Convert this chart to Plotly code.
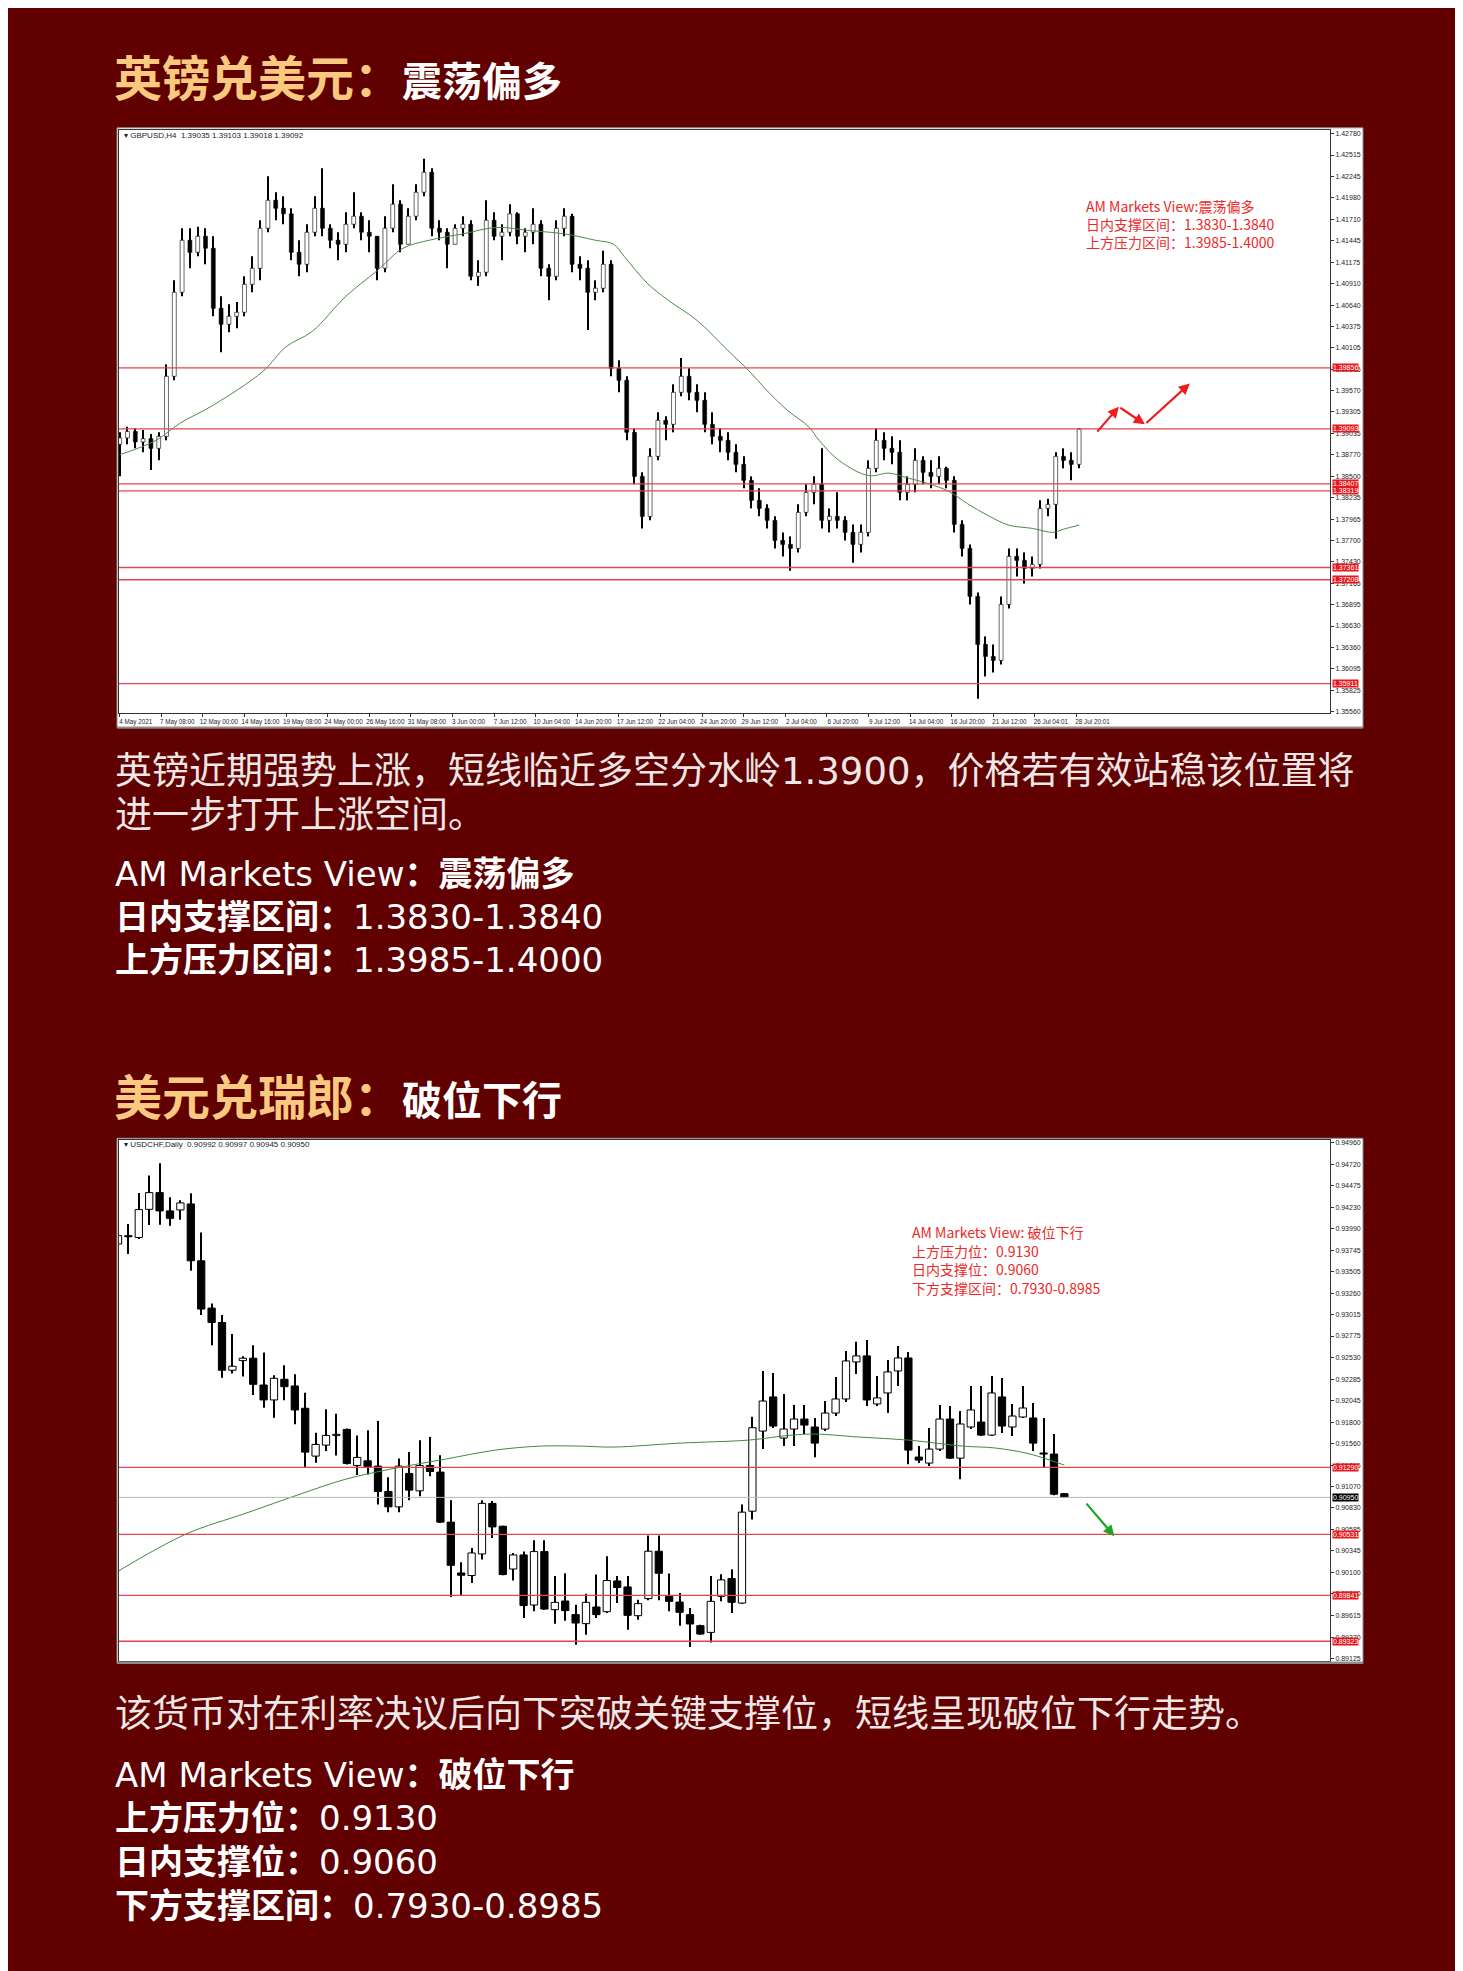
import plotly.graph_objects as go

W, H = 1463, 1971
BG = "#600000"
GOLD = "#f9c97f"
TXT_RED = "#ec2a2a"
LVL_RED = "#e2474b"

# ---------------- GBPUSD H4 (one entry = 3 H4 bars) ----------------
gb_bar = list(range(0, 370, 3))
gb_first_open = 1.3890
gb_close = [1.3898, 1.3906, 1.3893, 1.3897, 1.3885, 1.3900, 1.3975, 1.4080, 1.4145, 1.4130,
            1.4150, 1.4135, 1.4060, 1.4040, 1.4050, 1.4055, 1.4090, 1.4110, 1.4160, 1.4195,
            1.4185, 1.4178, 1.4130, 1.4115, 1.4155, 1.4185, 1.4160, 1.4145, 1.4140, 1.4165,
            1.4175, 1.4155, 1.4150, 1.4110, 1.4160, 1.4190, 1.4140, 1.4175, 1.4205, 1.4230,
            1.4160, 1.4155, 1.4140, 1.4160, 1.4165, 1.4100, 1.4105, 1.4170, 1.4150, 1.4155,
            1.4178, 1.4150, 1.4155, 1.4165, 1.4110, 1.4100, 1.4160, 1.4175, 1.4115, 1.4110,
            1.4080, 1.4085, 1.4115, 1.3985, 1.3970, 1.3905, 1.3850, 1.3800, 1.3875, 1.3920,
            1.3915, 1.3955, 1.3975, 1.3955, 1.3945, 1.3915, 1.3900, 1.3895, 1.3880, 1.3865,
            1.3845, 1.3820, 1.3810, 1.3795, 1.3770, 1.3765, 1.3760, 1.3805, 1.3830, 1.3840,
            1.3795, 1.3800, 1.3795, 1.3780, 1.3765, 1.3780, 1.3860, 1.3895, 1.3885, 1.3880,
            1.3830, 1.3840, 1.3870, 1.3855, 1.3850, 1.3860, 1.3845, 1.3790, 1.3760, 1.3700,
            1.3640, 1.3625, 1.3620, 1.3690, 1.3750, 1.3745, 1.3735, 1.3740, 1.3810, 1.3815,
            1.3875, 1.3870, 1.3865, 1.3909]
gb_high = [1.3905, 1.3912, 1.3910, 1.3908, 1.3903, 1.3905, 1.3990, 1.4095, 1.4160, 1.4160,
           1.4162, 1.4160, 1.4150, 1.4075, 1.4065, 1.4068, 1.4100, 1.4125, 1.4170, 1.4225,
           1.4205, 1.4200, 1.4185, 1.4145, 1.4165, 1.4200, 1.4235, 1.4165, 1.4155, 1.4180,
           1.4205, 1.4180, 1.4170, 1.4150, 1.4175, 1.4215, 1.4195, 1.4185, 1.4215, 1.4247,
           1.4235, 1.4170, 1.4160, 1.4165, 1.4175, 1.4170, 1.4120, 1.4195, 1.4180, 1.4165,
           1.4190, 1.4180, 1.4160, 1.4185, 1.4170, 1.4115, 1.4170, 1.4185, 1.4178, 1.4125,
           1.4120, 1.4095, 1.4132, 1.4120, 1.3995, 1.3975, 1.3910, 1.3855, 1.3885, 1.3930,
           1.3925, 1.3965, 1.3998, 1.3985, 1.3965, 1.3955, 1.3930, 1.3910, 1.3905, 1.3890,
           1.3875, 1.3850, 1.3835, 1.3815, 1.3800, 1.3780, 1.3775, 1.3815, 1.3840, 1.3850,
           1.3885, 1.3810, 1.3830, 1.3800, 1.3790, 1.3790, 1.3870, 1.3910, 1.3905, 1.3900,
           1.3895, 1.3850, 1.3885, 1.3875, 1.3870, 1.3875, 1.3862, 1.3850, 1.3795, 1.3765,
           1.3705, 1.3650, 1.3640, 1.3700, 1.3760, 1.3760, 1.3755, 1.3750, 1.3820, 1.3822,
           1.3880, 1.3885, 1.3880, 1.3910]
gb_low = [1.3850, 1.3890, 1.3885, 1.3880, 1.3858, 1.3870, 1.3895, 1.3970, 1.4075, 1.4110,
          1.4125, 1.4115, 1.4050, 1.4005, 1.4030, 1.4035, 1.4050, 1.4080, 1.4095, 1.4155,
          1.4170, 1.4165, 1.4120, 1.4100, 1.4105, 1.4150, 1.4150, 1.4135, 1.4120, 1.4130,
          1.4160, 1.4145, 1.4130, 1.4095, 1.4105, 1.4155, 1.4130, 1.4140, 1.4170, 1.4200,
          1.4150, 1.4145, 1.4110, 1.4140, 1.4150, 1.4095, 1.4088, 1.4100, 1.4145, 1.4120,
          1.4150, 1.4140, 1.4130, 1.4140, 1.4100, 1.4070, 1.4095, 1.4150, 1.4105, 1.4095,
          1.4033, 1.4070, 1.4080, 1.3975, 1.3955, 1.3895, 1.3840, 1.3785, 1.3795, 1.3870,
          1.3895, 1.3905, 1.3950, 1.3945, 1.3930, 1.3905, 1.3890, 1.3880, 1.3870, 1.3855,
          1.3835, 1.3810, 1.3800, 1.3785, 1.3760, 1.3750, 1.3732, 1.3755, 1.3800, 1.3815,
          1.3785, 1.3780, 1.3785, 1.3770, 1.3742, 1.3755, 1.3775, 1.3855, 1.3870, 1.3865,
          1.3820, 1.3820, 1.3830, 1.3840, 1.3835, 1.3840, 1.3835, 1.3780, 1.3750, 1.3690,
          1.3572, 1.3600, 1.3605, 1.3615, 1.3685, 1.3725, 1.3716, 1.3725, 1.3735, 1.3800,
          1.3772, 1.3860, 1.3845, 1.3860]
gb_ma_bar = [0, 14, 23, 36, 55, 64, 74, 87, 99, 109, 119, 132, 145, 158, 171, 183, 190, 194,
             203, 211, 222, 234, 242, 249, 257, 265, 269, 277, 288, 296, 303, 311, 319, 326,
             334, 342, 351, 359, 363, 369]
gb_ma = [1.3877, 1.3895, 1.3916, 1.3939, 1.3981, 1.4012, 1.4031, 1.4075, 1.4107, 1.4135,
         1.4145, 1.4153, 1.4161, 1.4157, 1.4153, 1.4145, 1.4140, 1.4125, 1.4091, 1.4070,
         1.4045, 1.4007, 1.3982, 1.3957, 1.3932, 1.3912, 1.3895, 1.3869, 1.3851, 1.3854,
         1.3848, 1.3841, 1.3831, 1.3816, 1.3801, 1.3789, 1.3785, 1.3780, 1.3784, 1.3789]
gb_levels = [1.39856, 1.39093, 1.38407, 1.38319, 1.37361, 1.37208, 1.35911]
gb_yticks = [1.42780, 1.42515, 1.42245, 1.41980, 1.41710, 1.41445, 1.41175, 1.40910, 1.40640,
             1.40375, 1.40105, 1.39835, 1.39570, 1.39305, 1.39035, 1.38770, 1.38500, 1.38235,
             1.37965, 1.37700, 1.37430, 1.37165, 1.36895, 1.36630, 1.36360, 1.36095, 1.35825,
             1.35560]
gb_xtick_bar = [0, 16, 32, 48, 64, 80, 96, 112, 128, 144, 160, 176, 192, 208, 224, 240, 256,
                272, 288, 304, 320, 336, 352, 368]
gb_xtick_text = ["4 May 2021", "7 May 08:00", "12 May 00:00", "14 May 16:00", "19 May 08:00",
                 "24 May 00:00", "26 May 16:00", "31 May 08:00", "3 Jun 00:00", "7 Jun 12:00",
                 "10 Jun 04:00", "14 Jun 20:00", "17 Jun 12:00", "22 Jun 04:00", "24 Jun 20:00",
                 "29 Jun 12:00", "2 Jul 04:00", "6 Jul 20:00", "9 Jul 12:00", "14 Jul 04:00",
                 "16 Jul 20:00", "21 Jul 12:00", "26 Jul 04:01", "28 Jul 20:01"]
gb_arrow_bar = [375.5, 384.3, 394.3, 411.6]
gb_arrow_price = [1.3904, 1.3937, 1.3915, 1.3966]

# ---------------- USDCHF Daily ----------------
cf_day = list(range(92))
cf_open = [0.93816, 0.93905, 0.93890, 0.94208, 0.94397, 0.94190, 0.94201, 0.94269, 0.93626, 0.93091,
           0.92928, 0.92388, 0.92497, 0.92524, 0.92221, 0.92052, 0.92286, 0.92210, 0.91958, 0.91417,
           0.91541, 0.91651, 0.91719, 0.91311, 0.91364, 0.91304, 0.91017, 0.90843, 0.91221, 0.91024,
           0.91311, 0.91236, 0.90670, 0.90095, 0.90066, 0.90310, 0.90882, 0.90624, 0.90140, 0.90299,
           0.89733, 0.90337, 0.89680, 0.89778, 0.89624, 0.89522, 0.89710, 0.89657, 0.90005, 0.89937,
           0.89612, 0.89805, 0.90341, 0.89831, 0.89766, 0.89624, 0.89499, 0.89423, 0.89831, 0.90032,
           0.89755, 0.90794, 0.91700, 0.92086, 0.91621, 0.91723, 0.91836, 0.91746, 0.91723, 0.91904,
           0.92063, 0.92482, 0.92550, 0.92007, 0.92131, 0.92380, 0.92527, 0.91406, 0.91338, 0.91496,
           0.91836, 0.91394, 0.91746, 0.91802, 0.91655, 0.92086, 0.91746, 0.91859, 0.91848, 0.91446,
           0.91440, 0.90992]
cf_close = [0.93910, 0.93898, 0.94205, 0.94397, 0.94190, 0.94106, 0.94281, 0.93626, 0.93080, 0.92928,
            0.92388, 0.92433, 0.92524, 0.92229, 0.92052, 0.92297, 0.92202, 0.91939, 0.91462, 0.91549,
            0.91651, 0.91658, 0.91334, 0.91402, 0.91296, 0.91017, 0.90843, 0.91304, 0.91032, 0.91311,
            0.91243, 0.90670, 0.90182, 0.90069, 0.90321, 0.90882, 0.90616, 0.90077, 0.90299, 0.89726,
            0.90337, 0.89687, 0.89763, 0.89669, 0.89529, 0.89763, 0.89624, 0.90010, 0.89930, 0.89616,
            0.89748, 0.90341, 0.90092, 0.89774, 0.89650, 0.89518, 0.89404, 0.89774, 0.90017, 0.89763,
            0.90783, 0.91738, 0.92040, 0.91757, 0.91723, 0.91836, 0.91768, 0.91564, 0.91904, 0.92063,
            0.92493, 0.92550, 0.92052, 0.92075, 0.92369, 0.92527, 0.91485, 0.91372, 0.91496, 0.91836,
            0.91394, 0.91780, 0.91939, 0.91655, 0.92131, 0.91757, 0.91870, 0.91961, 0.91564, 0.91440,
            0.90986, 0.90950]
cf_high = [0.93910, 0.94042, 0.94394, 0.94590, 0.94729, 0.94344, 0.94310, 0.94390, 0.93947, 0.93143,
           0.93012, 0.92799, 0.92547, 0.92671, 0.92588, 0.92331, 0.92445, 0.92343, 0.92134, 0.91681,
           0.91946, 0.91896, 0.91730, 0.91651, 0.91708, 0.91814, 0.91179, 0.91391, 0.91462, 0.91595,
           0.91632, 0.91428, 0.90919, 0.90216, 0.90378, 0.90919, 0.90908, 0.90630, 0.90321, 0.90337,
           0.90465, 0.90465, 0.90062, 0.90092, 0.89737, 0.89861, 0.90077, 0.90284, 0.90062, 0.90062,
           0.89793, 0.90519, 0.90519, 0.90088, 0.89868, 0.89699, 0.89510, 0.90062, 0.90081, 0.90137,
           0.90869, 0.91862, 0.92380, 0.92357, 0.92120, 0.91995, 0.91995, 0.91848, 0.92040, 0.92312,
           0.92607, 0.92709, 0.92731, 0.92323, 0.92505, 0.92663, 0.92595, 0.91530, 0.91734, 0.91995,
           0.91984, 0.91927, 0.92210, 0.92210, 0.92323, 0.92301, 0.92007, 0.92210, 0.92018, 0.91848,
           0.91666, 0.90997]
cf_low = [0.93762, 0.93702, 0.93872, 0.94031, 0.94034, 0.94023, 0.94091, 0.93513, 0.93012, 0.92671,
          0.92304, 0.92350, 0.92316, 0.92108, 0.91965, 0.91852, 0.92048, 0.91777, 0.91284, 0.91341,
          0.91474, 0.91425, 0.91323, 0.91202, 0.91210, 0.90870, 0.90783, 0.90783, 0.90919, 0.90964,
          0.91190, 0.90660, 0.89823, 0.89839, 0.89982, 0.90247, 0.90491, 0.90070, 0.90009, 0.89585,
          0.89661, 0.89680, 0.89522, 0.89556, 0.89284, 0.89397, 0.89585, 0.89642, 0.89755, 0.89454,
          0.89567, 0.89786, 0.89786, 0.89661, 0.89499, 0.89257, 0.89395, 0.89310, 0.89774, 0.89642,
          0.89748, 0.90700, 0.91496, 0.91735, 0.91530, 0.91530, 0.91666, 0.91405, 0.91700, 0.91870,
          0.92029, 0.92346, 0.91984, 0.91984, 0.91904, 0.92210, 0.91326, 0.91338, 0.91304, 0.91474,
          0.91383, 0.91156, 0.91723, 0.91643, 0.91643, 0.91678, 0.91643, 0.91848, 0.91474, 0.91281,
          0.90975, 0.90945]
cf_ma_day = [0, 6.5, 12.3, 17.5, 21.9, 26.7, 31.5, 36.3, 40.6, 44.4, 47.6, 54.1, 60.6, 64.8, 67.1,
             71.3, 76, 81.2, 84.4, 87.7, 91]
cf_ma = [0.90114, 0.90533, 0.90771, 0.90986, 0.91156, 0.91281, 0.91383, 0.91485, 0.91530, 0.91530,
         0.91519, 0.91564, 0.91598, 0.91655, 0.91666, 0.91632, 0.91598, 0.91530, 0.91508, 0.91440,
         0.91315]
cf_levels = [0.91290, 0.90531, 0.89841, 0.89323]
cf_last = 0.90950
cf_yticks = [0.94960, 0.94720, 0.94475, 0.94230, 0.93990, 0.93745, 0.93505, 0.93260, 0.93015,
             0.92775, 0.92530, 0.92285, 0.92045, 0.91800, 0.91560, 0.91315, 0.91070, 0.90830,
             0.90585, 0.90345, 0.90100, 0.89860, 0.89615, 0.89370, 0.89125]
cf_arrow_day = [93.0, 95.8]
cf_arrow_price = [0.90896, 0.90511]

# ---------------- figure ----------------
def px_x(p):
    return p / W


def px_y(p):
    return 1 - p / H


fig = go.Figure()


def add_candles(x, o, h, l, c, xa, ya, body_w, wick_w, min_h, lw):
    lo = [min(a, b) for a, b in zip(o, c)]
    ht = [max(abs(a - b), min_h) for a, b in zip(o, c)]
    wl = [min(a, b, d) for a, b, d in zip(l, o, c)]
    wh = [max(a, b, d) for a, b, d in zip(h, o, c)]
    cols = ["#ffffff" if b > a else "#000000" for a, b in zip(o, c)]
    fig.add_trace(go.Bar(x=x, y=[b - a for a, b in zip(wl, wh)], base=wl, width=wick_w,
                         marker=dict(color="#000000", line=dict(width=0)),
                         xaxis=xa, yaxis=ya, hoverinfo="skip", showlegend=False))
    fig.add_trace(go.Bar(x=x, y=ht, base=lo, width=body_w,
                         marker=dict(color=cols, line=dict(color="#000000", width=lw)),
                         xaxis=xa, yaxis=ya, hoverinfo="skip", showlegend=False))


gb_open = [gb_first_open] + gb_close[:-1]
add_candles(gb_bar, gb_open, gb_high, gb_low, gb_close, "x", "y", 1.5, 0.4, 0.00013, 0.6)
fig.add_trace(go.Scatter(x=gb_ma_bar, y=gb_ma, mode="lines", line=dict(color="#4d8a4d", width=1, shape="spline"),
                         xaxis="x", yaxis="y", hoverinfo="skip", showlegend=False))

add_candles(cf_day, cf_open, cf_high, cf_low, cf_close, "x2", "y2", 0.7, 0.1, 0.00012, 1)
fig.add_trace(go.Scatter(x=cf_ma_day, y=cf_ma, mode="lines", line=dict(color="#3f8a3f", width=1, shape="spline"),
                         xaxis="x2", yaxis="y2", hoverinfo="skip", showlegend=False))

XD = [px_x(111), px_x(1322)]
axis_common = dict(showgrid=False, zeroline=False, showline=True, linecolor="#333333", linewidth=1,
                   mirror=True, ticklen=3, tickcolor="#333333")
tickf = dict(family="Liberation Sans", size=7, color="#222222")

fig.update_layout(
    width=W, height=H, margin=dict(l=0, r=0, t=0, b=0),
    paper_bgcolor=BG, plot_bgcolor="#ffffff", barmode="overlay", showlegend=False,
    xaxis=dict(domain=XD, range=[-0.27, 465.5], anchor="y", tickvals=gb_xtick_bar, ticktext=gb_xtick_text,
               ticks="outside", tickangle=0, ticklabelshift=16,
               tickfont=dict(family="Liberation Sans", size=6.3, color="#222222"), **axis_common),
    yaxis=dict(domain=[px_y(705), px_y(121)], range=[1.35544, 1.42830], anchor="x", side="right",
               ticks="outside", tickvals=gb_yticks, tickformat=".5f", tickfont=tickf, **axis_common),
    xaxis2=dict(domain=XD, range=[0.096, 116.54], anchor="y2", showticklabels=False, ticks="",
                **axis_common),
    yaxis2=dict(domain=[px_y(1655), px_y(1133)], range=[0.89094, 0.94989], anchor="x2", side="right",
                ticks="outside", tickvals=cf_yticks, tickformat=".5f", tickfont=tickf, **axis_common),
)

shapes = []
# white panels
for top, bot in [(119, 720), (1131, 1657)]:
    shapes.append(dict(type="rect", xref="paper", yref="paper", x0=px_x(109), x1=px_x(1355),
                       y0=px_y(bot), y1=px_y(top), fillcolor="#ffffff", line=dict(color="#8a8a8a", width=1),
                       layer="below"))
shapes.append(dict(type="line", xref="paper", yref="paper", x0=px_x(109), x1=px_x(1355),
                   y0=px_y(1656), y1=px_y(1656), line=dict(color="#8c8c8c", width=2)))
shapes.append(dict(type="line", xref="paper", yref="paper", x0=px_x(109), x1=px_x(1355),
                   y0=px_y(719.5), y1=px_y(719.5), line=dict(color="#8c8c8c", width=2)))
for lv in gb_levels:
    shapes.append(dict(type="line", xref="x domain", yref="y", x0=0, x1=1, y0=lv, y1=lv,
                       line=dict(color=LVL_RED, width=1.3)))
for lv in cf_levels:
    shapes.append(dict(type="line", xref="x2 domain", yref="y2", x0=0, x1=1, y0=lv, y1=lv,
                       line=dict(color=LVL_RED, width=1.3)))
shapes.append(dict(type="line", xref="x2 domain", yref="y2", x0=0, x1=1, y0=cf_last, y1=cf_last,
                   line=dict(color="#b8b8b8", width=1)))
fig.update_layout(shapes=shapes)

ann = []
lblfont = dict(family="Liberation Sans", size=7, color="#ffffff")
for lv in gb_levels:
    ann.append(dict(xref="x domain", yref="y", x=1, y=lv, xanchor="left", yanchor="middle", xshift=2,
                    text=f"{lv:.5f}", showarrow=False, bgcolor="#e8191e", font=lblfont, borderpad=0))
for lv in cf_levels:
    ann.append(dict(xref="x2 domain", yref="y2", x=1, y=lv, xanchor="left", yanchor="middle", xshift=2,
                    text=f"{lv:.5f}", showarrow=False, bgcolor="#e8191e", font=lblfont, borderpad=0))
ann.append(dict(xref="x2 domain", yref="y2", x=1, y=cf_last, xanchor="left", yanchor="middle", xshift=2,
                text=f"{cf_last:.5f}", showarrow=False, bgcolor="#000000", font=lblfont, borderpad=0))

# chart headers
hdr_font = dict(family="Liberation Sans", size=8, color="#222222")
ann.append(dict(xref="paper", yref="paper", x=px_x(114), y=px_y(127), xanchor="left", yanchor="middle",
                text="▾ GBPUSD,H4  1.39035 1.39103 1.39018 1.39092", showarrow=False, font=hdr_font))
ann.append(dict(xref="paper", yref="paper", x=px_x(114), y=px_y(1137), xanchor="left", yanchor="middle",
                text="▾ USDCHF,Daily  0.90992 0.90997 0.90945 0.90950", showarrow=False, font=hdr_font))

# red / green arrows
for i in range(3):
    ann.append(dict(xref="x", yref="y", axref="x", ayref="y", x=gb_arrow_bar[i + 1], y=gb_arrow_price[i + 1],
                    ax=gb_arrow_bar[i], ay=gb_arrow_price[i], showarrow=True, arrowhead=2, arrowsize=1,
                    arrowwidth=2.2, arrowcolor="#ee1c1c", text=""))
ann.append(dict(xref="x2", yref="y2", axref="x2", ayref="y2", x=cf_arrow_day[1], y=cf_arrow_price[1],
                ax=cf_arrow_day[0], ay=cf_arrow_price[0], showarrow=True, arrowhead=2, arrowsize=1,
                arrowwidth=2.2, arrowcolor="#1fa31f", text=""))

# in-chart view text
cfont = dict(family="Noto Sans CJK SC", size=14, color=TXT_RED)
for txt, yy in [("AM Markets View:震荡偏多", 197), ("日内支撑区间：1.3830-1.3840", 215),
                ("上方压力区间：1.3985-1.4000", 233)]:
    ann.append(dict(xref="paper", yref="paper", x=px_x(1076), y=px_y(yy), xanchor="left", yanchor="middle",
                    text=txt, showarrow=False, font=cfont))
for txt, yy in [("AM Markets View: 破位下行", 1225), ("上方压力位：0.9130", 1244),
                ("日内支撑位：0.9060", 1262), ("下方支撑区间：0.7930-0.8985", 1281)]:
    ann.append(dict(xref="paper", yref="paper", x=px_x(902), y=px_y(yy), xanchor="left", yanchor="middle",
                    text=txt, showarrow=False, font=cfont))

# titles
tfont = dict(family="Noto Sans CJK SC", size=48, color=GOLD)
for main, sub, yy in [("英镑兑美元：", "震荡偏多", 66), ("美元兑瑞郎：", "破位下行", 1087)]:
    ann.append(dict(xref="paper", yref="paper", x=px_x(104), y=px_y(yy), xanchor="left", yanchor="middle",
                    text=f'<b>{main}</b><span style="font-size:40px;color:#ffffff"><b>{sub}</b></span>',
                    showarrow=False, font=tfont))

# body text
dfont = dict(family="DejaVu Sans, Noto Sans CJK SC", size=37, color="#efe6e6")
for txt, yy in [("英镑近期强势上涨，短线临近多空分水岭1.3900，价格若有效站稳该位置将", 764),
                ("进一步打开上涨空间。", 808),
                ("该货币对在利率决议后向下突破关键支撑位，短线呈现破位下行走势。", 1708)]:
    ann.append(dict(xref="paper", yref="paper", x=px_x(105), y=px_y(yy), xanchor="left", yanchor="middle",
                    text=txt, showarrow=False, font=dfont))
vfont = dict(family="DejaVu Sans, Noto Sans CJK SC", size=34, color="#ffffff")
for txt, yy in [("AM Markets View<b>：震荡偏多</b>", 866), ("<b>日内支撑区间：</b>1.3830-1.3840", 909),
                ("<b>上方压力区间：</b>1.3985-1.4000", 952),
                ("AM Markets View<b>：破位下行</b>", 1769), ("<b>上方压力位：</b>0.9130", 1812),
                ("<b>日内支撑位：</b>0.9060", 1856), ("<b>下方支撑区间：</b>0.7930-0.8985", 1900)]:
    ann.append(dict(xref="paper", yref="paper", x=px_x(105), y=px_y(yy), xanchor="left", yanchor="middle",
                    text=txt, showarrow=False, font=vfont))

fig.update_layout(annotations=ann)
fig.write_html("out.html")
